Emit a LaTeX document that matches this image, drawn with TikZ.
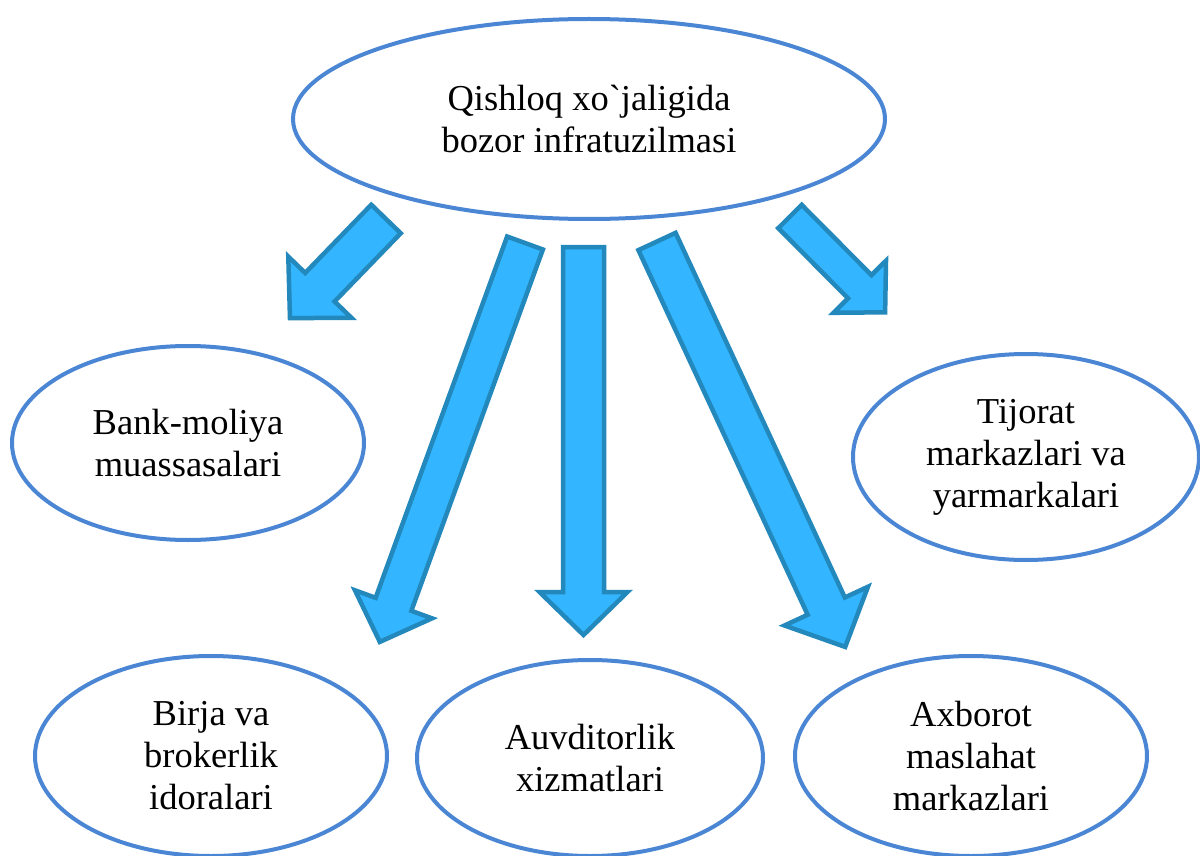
\documentclass[tikz,border=0pt]{standalone}
\usepackage{fontspec}
\setmainfont{Liberation Serif}
\newfontfamily\gravefont{Liberation Serif}
\usetikzlibrary{shapes.geometric}
\definecolor{ovalline}{HTML}{4A86D4}
\definecolor{arrfill}{HTML}{33B5FF}
\definecolor{arrline}{HTML}{2388BC}
\tikzset{
  oval/.style={ellipse, draw=ovalline, line width=4pt, fill=white, inner sep=0pt, align=center,
    font=\fontsize{36.5}{42}\selectfont},
  blockarrow/.style={fill=arrfill, draw=arrline, line width=4.5pt, line join=miter},
}
% x y angle length shafthalf headhalf headlength
\newcommand\blockarr[7]{%
  \begin{scope}[shift={(#1,#2)},rotate=#3]
    \draw[blockarrow] (0,-#5) -- (#4-#7,-#5) -- (#4-#7,-#6) -- (#4,0) -- (#4-#7,#6) -- (#4-#7,#5) -- (0,#5) -- cycle;
  \end{scope}}
\begin{document}
\begin{tikzpicture}[x=1pt,y=-1pt]
\useasboundingbox (0,0) rectangle (1200,856);
\node[oval, minimum width=592pt, minimum height=200pt] (top) at (589,119) {Qishloq xo{\gravefont\symbol{96}}jaligida\\bozor infratuzilmasi};
\node[oval, minimum width=352pt, minimum height=194pt] (bank) at (188,443) {Bank-moliya\\muassasalari};
\node[oval, minimum width=346pt, minimum height=206pt] (tij) at (1026,457) {Tijorat\\markazlari va\\yarmarkalari};
\node[oval, minimum width=352pt, minimum height=200pt] (birja) at (211,756) {Birja va\\brokerlik\\idoralari};
\node[oval, minimum width=346pt, minimum height=196pt] (audit) at (590,758) {Auvditorlik\\xizmatlari};
\node[oval, minimum width=352pt, minimum height=200pt] (axb) at (971,756) {Axborot\\maslahat\\markazlari};
\blockarr{386}{219}{225.9}{138}{20.5}{44}{43}
\blockarr{525}{243}{250.0}{424.5}{19}{41}{40}
\blockarr{583.5}{247}{270}{388}{20.5}{44}{43}
\blockarr{657}{241.5}{-65.1}{447}{20.5}{46}{45}
\blockarr{790}{216.5}{-45.2}{135}{16.5}{37}{36}
\end{tikzpicture}
\end{document}
